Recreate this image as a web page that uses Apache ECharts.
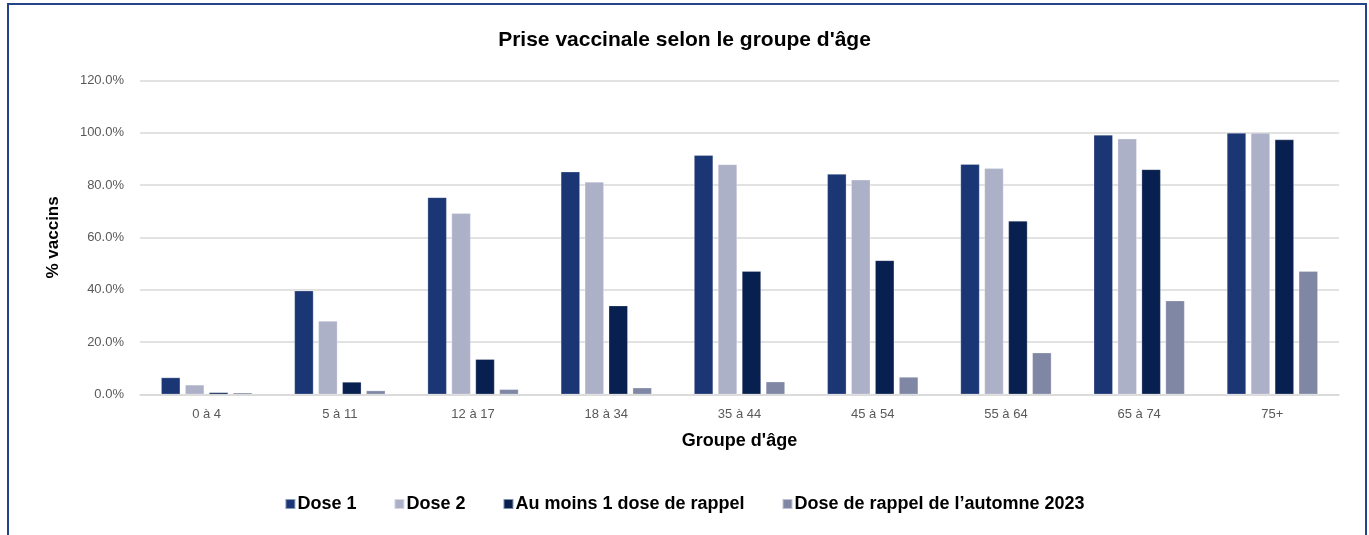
<!DOCTYPE html>
<html>
<head>
<meta charset="utf-8">
<script src="https://cdn.jsdelivr.net/npm/echarts@6/dist/echarts.min.js"></script>
<style>
html,body{margin:0;padding:0;background:#fff;}
#chart{width:1369px;height:535px;}
</style>
</head>
<body>
<div id="chart"></div>
<script>
const categories = ['0 à 4','5 à 11','12 à 17','18 à 34','35 à 44','45 à 54','55 à 64','65 à 74','75+'];
const dose1   = [6.4, 39.6, 75.3, 85.1, 91.4, 84.2, 88.0, 99.2, 99.9];
const dose2   = [3.6, 28.0, 69.2, 81.2, 87.9, 82.0, 86.4, 97.7, 99.9];
const rappel  = [0.7, 4.7, 13.4, 33.9, 47.1, 51.2, 66.3, 86.0, 97.4];
const automne = [0.6, 1.4, 1.9, 2.5, 4.8, 6.6, 15.9, 35.8, 47.1];
const seriesNames = ['Dose 1','Dose 2','Au moins 1 dose de rappel','Dose de rappel de l\u2019automne 2023'];
const colors = ['#1b3674','#adb1c8','#08204f','#7f87a5'];

const font = '"Liberation Sans", Arial, sans-serif';
const chart = echarts.init(document.getElementById('chart'));
const mk = (name, data, color) => ({
  name, type: 'bar', data, barWidth: 19, barGap: '26%',
  itemStyle: { color, borderColor: 'rgba(255,255,255,0.5)', borderWidth: 0.5 }
});
chart.setOption({
  animation: false,
  color: colors,
  title: {
    text: 'Prise vaccinale selon le groupe d\'âge',
    left: 'center', top: 25,
    textStyle: { fontFamily: font, fontSize: 21, fontWeight: 'bold', color: '#000' }
  },
  legend: {
    top: 490, left: 'center',
    itemWidth: 10, itemHeight: 10, itemGap: 37,
    icon: 'rect',
    textStyle: { fontFamily: font, fontSize: 18, fontWeight: 'bold', color: '#000', padding: [0,0,0,-3] },
    data: seriesNames
  },
  grid: { left: 140, right: 30, top: 80.5, bottom: 140.7 },
  xAxis: {
    type: 'category', data: categories,
    name: 'Groupe d\'âge', nameLocation: 'middle', nameGap: 38,
    nameTextStyle: { fontFamily: font, fontSize: 18, fontWeight: 'bold', color: '#000' },
    axisLine: { lineStyle: { color: '#d9d9d9', width: 1.5 } },
    axisTick: { show: false },
    axisLabel: { fontFamily: font, fontSize: 13, color: '#595959', margin: 14 }
  },
  yAxis: {
    type: 'value', min: 0, max: 120, interval: 20,
    name: '% vaccins', nameLocation: 'middle', nameGap: 78,
    nameTextStyle: { fontFamily: font, fontSize: 17, fontWeight: 'bold', color: '#000' },
    axisLine: { show: false }, axisTick: { show: false },
    splitLine: { lineStyle: { color: '#d9d9d9', width: 1.5 } },
    axisLabel: { fontFamily: font, fontSize: 13, color: '#595959', margin: 16,
      formatter: v => v.toFixed(1) + '%' }
  },
  graphic: [{
    type: 'rect', silent: true, x: 0, y: 0,
    shape: { x: 8, y: 4, width: 1358, height: 620 },
    style: { fill: 'none', stroke: '#24448a', lineWidth: 2 }
  }],
  series: [
    mk(seriesNames[0], dose1, colors[0]),
    mk(seriesNames[1], dose2, colors[1]),
    mk(seriesNames[2], rappel, colors[2]),
    mk(seriesNames[3], automne, colors[3])
  ]
});
</script>
</body>
</html>
